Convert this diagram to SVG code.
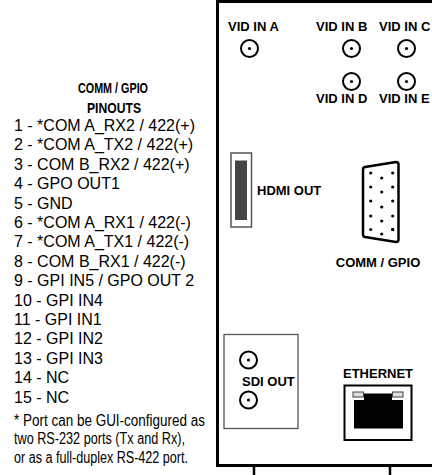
<svg xmlns="http://www.w3.org/2000/svg" width="432" height="475" viewBox="0 0 432 475">
<style>
.lbl{font-family:"Liberation Sans",Arial,sans-serif;font-weight:bold;font-size:13px;fill:#000}
.pin{font-family:"Liberation Sans",Arial,sans-serif;font-size:16px;fill:#000}
.ttl{font-family:"Liberation Sans",Arial,sans-serif;font-weight:bold;font-size:15px;fill:#000;text-anchor:middle}
.bnc{fill:#fff;stroke:#000;stroke-width:2}
.dot{fill:#000}
</style>
<defs>
<g id="bncConn"><circle class="bnc" r="8.5"/><circle class="dot" r="1.6"/></g>
</defs>
<g id="pinout-legend">
<text class="ttl" x="113" y="93" textLength="70" lengthAdjust="spacingAndGlyphs">COMM / GPIO</text>
<text class="ttl" x="114" y="112.5" textLength="54" lengthAdjust="spacingAndGlyphs">PINOUTS</text>
<text class="pin" x="14" y="131">1 - *COM A_RX2 / 422(+)</text>
<text class="pin" x="14" y="150.4">2 - *COM A_TX2 / 422(+)</text>
<text class="pin" x="14" y="169.8">3 - COM B_RX2 / 422(+)</text>
<text class="pin" x="14" y="189.2">4 - GPO OUT1</text>
<text class="pin" x="14" y="208.6">5 - GND</text>
<text class="pin" x="14" y="228">6 - *COM A_RX1 / 422(-)</text>
<text class="pin" x="14" y="247.4">7 - *COM A_TX1 / 422(-)</text>
<text class="pin" x="14" y="266.8">8 - COM B_RX1 / 422(-)</text>
<text class="pin" x="14" y="286.2">9 - GPI IN5 / GPO OUT 2</text>
<text class="pin" x="14" y="305.6">10 - GPI IN4</text>
<text class="pin" x="14" y="325">11 - GPI IN1</text>
<text class="pin" x="14" y="344.4">12 - GPI IN2</text>
<text class="pin" x="14" y="363.8">13 - GPI IN3</text>
<text class="pin" x="14" y="383.2">14 - NC</text>
<text class="pin" x="14" y="402.6">15 - NC</text>
<text class="pin" x="14" y="425.5" textLength="191" lengthAdjust="spacingAndGlyphs">* Port can be GUI-configured as</text>
<text class="pin" x="14" y="444" textLength="171" lengthAdjust="spacingAndGlyphs">two RS-232 ports (Tx and Rx),</text>
<text class="pin" x="14" y="462.5" textLength="174" lengthAdjust="spacingAndGlyphs">or as a full-duplex RS-422 port.</text>
</g>
<g id="panel">
<path d="M432 1.5 H217.5 V465.5 H432" fill="none" stroke="#000" stroke-width="3"/>
<path d="M254 465.5 V475 M390 465.5 V475" stroke="#000" stroke-width="2.5"/>
</g>
<g id="vid-in-a"><text class="lbl" x="228" y="31">VID IN A</text><use href="#bncConn" x="249.5" y="48.5"/></g>
<g id="vid-in-b"><text class="lbl" x="316" y="31">VID IN B</text><use href="#bncConn" x="351.5" y="48.5"/></g>
<g id="vid-in-c"><text class="lbl" x="379" y="31">VID IN C</text><use href="#bncConn" x="406.5" y="48.5"/></g>
<g id="vid-in-d"><use href="#bncConn" x="351.5" y="81.5"/><text class="lbl" x="316" y="103">VID IN D</text></g>
<g id="vid-in-e"><use href="#bncConn" x="406.5" y="81.5"/><text class="lbl" x="379" y="103">VID IN E</text></g>
<g id="hdmi-out">
<rect x="231" y="153" width="20.5" height="74" fill="#fff" stroke="#555" stroke-width="1.5"/>
<rect x="235" y="160.5" width="12" height="59.5" fill="#444"/>
<text class="lbl" x="257" y="195">HDMI OUT</text>
</g>
<g id="comm-gpio">
<path d="M365 167 L396 162 Q398.5 162 398.5 164.5 V239.5 Q398.5 242 396 242 L365 237 Q363 236.5 363 234.5 V169.5 Q363 167.5 365 167 Z" fill="#fff" stroke="#000" stroke-width="2.5" stroke-linejoin="round"/>
<g class="dot">
<circle cx="370.7" cy="173" r="1.6"/><circle cx="392.7" cy="173" r="1.6"/>
<circle cx="381.7" cy="178" r="1.6"/>
<circle cx="370.7" cy="187" r="1.6"/><circle cx="392.7" cy="187" r="1.6"/>
<circle cx="381.7" cy="192" r="1.6"/>
<circle cx="370.7" cy="201" r="1.6"/><circle cx="392.7" cy="201" r="1.6"/>
<circle cx="381.7" cy="207" r="1.6"/>
<circle cx="370.7" cy="216" r="1.6"/><circle cx="392.7" cy="216" r="1.6"/>
<circle cx="381.7" cy="221" r="1.6"/>
<circle cx="370.7" cy="229.5" r="1.6"/><rect x="391.2" y="228" width="3" height="3"/>
<circle cx="381.7" cy="234" r="1.6"/>
</g>
<text class="lbl" x="378" y="267" text-anchor="middle">COMM / GPIO</text>
</g>
<g id="sdi-out">
<rect x="224" y="334.5" width="74" height="94" fill="#fff" stroke="#555" stroke-width="1.3"/>
<use href="#bncConn" x="248.5" y="360"/>
<use href="#bncConn" x="248.5" y="400"/>
<text class="lbl" x="242" y="386">SDI OUT</text>
</g>
<g id="ethernet">
<text class="lbl" x="343" y="378">ETHERNET</text>
<rect x="344.5" y="385.5" width="67" height="54.5" fill="#fff" stroke="#000" stroke-width="2"/>
<path d="M364 393.5 H392 V400 H403 V428.5 H354 V400 H364 Z" fill="#000"/>
<rect x="353" y="392" width="10.5" height="5" fill="#ddd" stroke="#444" stroke-width="1"/>
<rect x="392.5" y="392" width="10.5" height="5" fill="#ddd" stroke="#444" stroke-width="1"/>
</g>
</svg>
